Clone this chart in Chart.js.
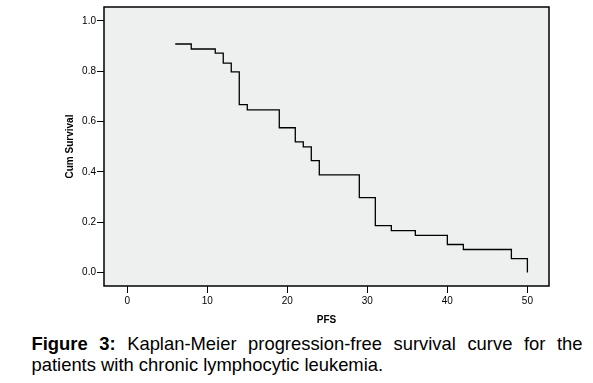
<!DOCTYPE html>
<html>
<head>
<meta charset="utf-8">
<script src="https://cdn.jsdelivr.net/npm/chart.js@4.4.1/dist/chart.umd.min.js"></script>
<style>
  html, body { margin: 0; padding: 0; background: #fff; }
  #wrap { position: relative; width: 593px; height: 383px; overflow: hidden; }
  #box { position: absolute; left: 0; top: 0; width: 593px; height: 330px; }
  #caption {
    position: absolute; left: 31.5px; top: 334px; width: 551px;
    font-family: "Liberation Sans", Arial, sans-serif; font-size: 18.4px; line-height: 20.5px;
    color: #000; text-align: justify;
  }
</style>
</head>
<body>
<div id="wrap">
  <div id="box"><canvas id="km"></canvas></div>
  <div id="caption"><b>Figure 3:</b> Kaplan-Meier progression-free survival curve for the patients with chronic lymphocytic leukemia.</div>
</div>
<script>
// ── Data ───────────────────────────────────────────
const times = [6, 8, 11, 12, 13, 14, 15, 19, 21, 22, 23, 24, 29, 31, 33, 36, 40, 42, 48, 50];
const survival = [0.908, 0.888, 0.872, 0.832, 0.797, 0.667, 0.646, 0.575, 0.519, 0.499, 0.444, 0.388, 0.297, 0.186, 0.166, 0.147, 0.111, 0.091, 0.055, 0.0];
const xTicks = [0, 10, 20, 30, 40, 50];
const yTicks = [0, 0.2, 0.4, 0.6, 0.8, 1.0];

Chart.defaults.font.family = '"Liberation Sans", Arial, sans-serif';
Chart.defaults.color = '#000';

// plot background + full frame box
const frame = {
  id: 'frame',
  beforeDraw(chart) {
    const { ctx, chartArea: a } = chart;
    ctx.save();
    ctx.fillStyle = '#eeefef';
    ctx.fillRect(a.left, a.top, a.right - a.left, a.bottom - a.top);
    ctx.restore();
  },
  afterDraw(chart) {
    const { ctx, chartArea: a } = chart;
    ctx.save();
    ctx.strokeStyle = '#000';
    ctx.lineWidth = 1.5;
    ctx.strokeRect(a.left, a.top, a.right - a.left, a.bottom - a.top);
    ctx.restore();
  }
};

new Chart(document.getElementById('km'), {
  type: 'line',
  data: {
    datasets: [{
      data: times.map((t, i) => ({ x: t, y: survival[i] })),
      stepped: 'before', // horizontal first, then drop
      borderColor: '#000',
      borderWidth: 1.3,
      pointRadius: 0,
      fill: false,
    }]
  },
  options: {
    responsive: true,
    maintainAspectRatio: false,
    animation: false,
    layout: { padding: { left: 0, right: 44, top: 6, bottom: 4 } },
    plugins: { legend: { display: false }, tooltip: { enabled: false } },
    scales: {
      x: {
        type: 'linear',
        min: -2.9, max: 52.7,
        afterBuildTicks: s => { s.ticks = xTicks.map(v => ({ value: v })); },
        afterFit: s => { s.height = 40; },
        grid: { drawOnChartArea: false, color: '#000', tickLength: 7, tickWidth: 1 },
        border: { display: false },
        ticks: { font: { size: 10 }, padding: 2, maxRotation: 0 },
        title: { display: true, text: 'PFS', font: { size: 10, weight: 'bold' }, padding: { top: 0, bottom: 0 } }
      },
      y: {
        min: -0.054, max: 1.055,
        afterBuildTicks: s => { s.ticks = yTicks.map(v => ({ value: v })); },
        afterFit: s => { s.width = 104; },
        grid: { drawOnChartArea: false, color: '#000', tickLength: 7, tickWidth: 1 },
        border: { display: false },
        ticks: { font: { size: 10 }, padding: 1, callback: v => v.toFixed(1) },
        title: { display: true, text: 'Cum Survival', font: { size: 10, weight: 'bold' }, padding: { top: 64, bottom: 0 } }
      }
    }
  },
  plugins: [frame]
});
</script>
</body>
</html>
